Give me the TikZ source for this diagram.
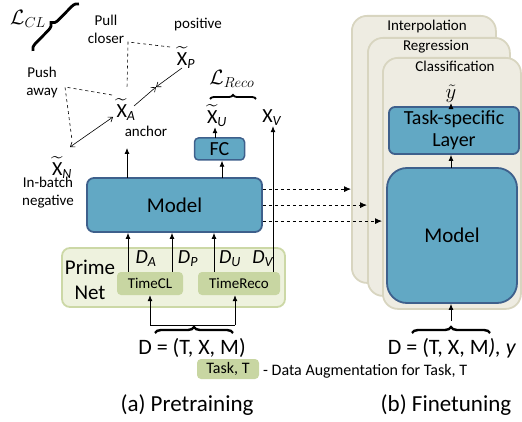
\documentclass[tikz,border=0pt]{standalone}
\usepackage{fontspec}
\setmainfont{Carlito}
\usepackage{amsmath}
\usetikzlibrary{arrows.meta,decorations.pathreplacing,calc}
\definecolor{mfill}{RGB}{98,168,196}
\definecolor{mdraw}{RGB}{62,96,140}
\definecolor{pfill}{RGB}{238,242,222}
\definecolor{pdraw}{RGB}{204,216,166}
\definecolor{gfill}{RGB}{200,214,162}
\definecolor{cfill}{RGB}{238,236,226}
\definecolor{cdraw}{RGB}{216,213,192}
\newcommand{\tX}[1]{$\widetilde{\text{X}}_{\textit{#1}}$}
\newcommand{\Dsub}[1]{\textit{D}\textsubscript{\textit{#1}}}
\begin{document}
\begin{tikzpicture}[x=1pt,y=-1pt,
  bluebox/.style={draw=mdraw,fill=mfill,line width=1.8pt,rounded corners=7pt,inner sep=0pt},
  greenbox/.style={fill=gfill,rounded corners=4pt,inner sep=0pt},
  card/.style={draw=cdraw,fill=cfill,line width=1.8pt,rounded corners=15pt,inner sep=0pt,anchor=north west},
  arr/.style={-{Latex[length=6pt,width=5pt]},line width=0.8pt},
  darr/.style={-{Latex[length=7pt,width=6pt]},dashed,line width=0.8pt},
  barb/.style={{Straight Barb[length=4pt,width=6pt]}-{Straight Barb[length=4pt,width=6pt]},line width=0.6pt},
  sbarb/.style={-{Straight Barb[length=4pt,width=6pt]},line width=0.6pt},
  dsh/.style={dashed,line width=0.6pt},
  lbl/.style={font=\fontsize{15}{18}\selectfont,align=center,inner sep=0pt},
  big/.style={font=\fontsize{20}{22}\selectfont,inner sep=0pt,align=center},
  huge/.style={font=\fontsize{23}{25}\selectfont,inner sep=0pt},
  brc/.style={decorate,decoration={brace,amplitude=6pt},line width=2.4pt},
]
\useasboundingbox (0,0) rectangle (522,422);

% ---------- contrastive part ----------
\node[big] (lcl) at (28,19) {$\mathcal{L}_{CL}$};
\coordinate (b1) at (33,51);
\coordinate (b2) at (79,4);
\draw[brc,decoration={brace,amplitude=7pt},line width=2.8pt] (b1) -- (b2);

\node[lbl] (pull) at (106,29) {Pull\\closer};
\node[lbl] (pos) at (198,25) {positive};
\node[big] (xp) at (186,58) {\tX{P}};
\node[lbl] (push) at (42,83) {Push\\away};
\node[big] (xa) at (126,110) {\tX{A}};
\node[lbl] (anch) at (146,131) {anchor};
\node[big] (xn) at (62,168) {\tX{N}};
\node[lbl] (inb) at (48,193) {In-batch\\negative};

\coordinate (pc) at (128,42);
\coordinate (pd) at (127,88);
\coordinate (pp) at (170,47);
\draw[dsh] (pp) -- (pc) -- (pd);
\coordinate (pa) at (65,87);
\coordinate (pa1) at (112,95);
\coordinate (pa2) at (72,140);
\draw[dsh] (pa1) -- (pa) -- (pa2);

\coordinate (mid) at (156,87);
\coordinate (ps) at (182,68);
\coordinate (as) at (134,106);
\draw[sbarb] (ps) -- (mid);
\draw[sbarb] (as) -- (mid);
\coordinate (an1) at (113,117);
\coordinate (an2) at (70,147);
\draw[barb] (an1) -- (an2);

% ---------- model (pretraining) ----------
\node[bluebox,minimum width=175pt,minimum height=54pt,big,font=\fontsize{21}{23}\selectfont] (model) at (174.5,205) {Model};
\node[bluebox,rounded corners=4pt,line width=1.5pt,minimum width=50pt,minimum height=22pt,big] (fc) at (219.5,149) {FC};
\node[big] (xu) at (217,116) {\tX{U}};
\node[big] (xv) at (272,118) {X\textsubscript{\textit{V}}};
\node[big] (lreco) at (232,79) {$\mathcal{L}_{Reco}$};
\coordinate (r1) at (210,99);
\coordinate (r2) at (256,99);
\draw[decorate,decoration={brace,amplitude=4pt},line width=1.8pt] (r1) -- (r2);

\coordinate (ma) at (127,178);
\coordinate (anctip) at (127,148);
\draw[arr] (ma) -- (anctip);
\coordinate (mf) at (222,178);
\draw[arr] (mf) -- (mf |- fc.south);
\coordinate (fu) at (215,138);
\draw[arr] (fu) -- (fu |- xu.south);

% ---------- PrimeNet ----------
\node[draw=pdraw,fill=pfill,line width=1.8pt,rounded corners=8pt,minimum width=223pt,minimum height=59pt,inner sep=0pt] (prime) at (173.5,277.5) {};
\node[big,font=\fontsize{21}{25}\selectfont] (pn) at (90,280) {Prime\\Net};
\node[greenbox,minimum width=66pt,minimum height=23pt,lbl] (tcl) at (150,283.5) {TimeCL};
\node[greenbox,minimum width=82pt,minimum height=23pt,lbl] (trc) at (239,283.5) {TimeReco};

\coordinate (da) at ($(tcl.north)+(-22,0)$);
\coordinate (dp) at ($(tcl.north)+(22,0)$);
\coordinate (du) at ($(trc.north)+(-25,0)$);
\coordinate (dv) at ($(trc.north)+(34,0)$);
\draw[arr] (da) -- (da |- model.south);
\draw[arr] (dp) -- (dp |- model.south);
\draw[arr] (du) -- (du |- model.south);
\draw[arr] (dv) -- (dv |- xv.south);
\node[big] (lda) at (146,259) {\Dsub{A}};
\node[big] (ldp) at (188,259) {\Dsub{P}};
\node[big] (ldu) at (230,259) {\Dsub{U}};
\node[big] (ldv) at (263,259) {\Dsub{V}};

\coordinate (h1) at (150,325);
\coordinate (h2) at (235,325);
\draw[arr] (h1) -- (h1 |- tcl.south);
\draw[arr] (h2) -- (h2 |- trc.south);
\draw[line width=0.8pt] (h1) -- (h2);
\coordinate (bl1) at (155,333);
\coordinate (bl2) at (233,333);
\draw[brc] (bl1) -- (bl2);
\node[big,font=\fontsize{22}{24}\selectfont] (dl) at (192,348) {D = (T, X, M)};

\node[greenbox,minimum width=62pt,minimum height=20pt,font=\fontsize{16}{18}\selectfont] (task) at (228,369) {Task, T};
\node[lbl,anchor=west,font=\fontsize{16}{18}\selectfont] (aug) at (263,371) {- Data Augmentation for Task, T};

\node[huge] (capa) at (187,405) {(a) Pretraining};
\node[huge] (capb) at (446,405) {(b) Finetuning};

% ---------- finetuning ----------
\node[card,minimum width=144pt,minimum height=267pt] (interp) at (351,15) {};
\node[card,minimum width=142pt,minimum height=258pt] (regr) at (367,37) {};
\node[card,minimum width=138pt,minimum height=251pt] (clas) at (382,57) {};
\node[lbl] (tint) at (427,27) {Interpolation};
\node[lbl] (treg) at (436,47) {Regression};
\node[lbl] (tcla) at (455,66) {Classification};

\node[big] (yt) at (451,94) {$\tilde{y}$};
\node[bluebox,rounded corners=6pt,minimum width=130pt,minimum height=47pt,big,font=\fontsize{20}{22}\selectfont] (tsl) at (454,130.5) {Task-specific\\Layer};
\node[bluebox,rounded corners=20pt,minimum width=130pt,minimum height=135pt,big,font=\fontsize{21}{23}\selectfont] (model2) at (452,235.5) {Model};

\coordinate (ty) at (451,107);
\draw[arr] (ty) -- (ty |- yt.south);
\coordinate (mt) at (451,168);
\draw[arr] (mt) -- (mt |- tsl.south);
\coordinate (bt) at (451,321);
\draw[arr] (bt) -- (bt |- model2.south);
\coordinate (br1) at (412,333);
\coordinate (br2) at (490,333);
\draw[brc] (br1) -- (br2);
\node[big,font=\fontsize{22}{24}\selectfont] (dr) at (452,348) {D = (T, X, M\textit{), y}};

\coordinate (s1) at ($(model.north east)+(0,12)$);
\coordinate (s2) at ($(model.north east)+(0,28)$);
\coordinate (s3) at ($(model.north east)+(0,44)$);
\draw[darr] (s1) -- (s1 -| interp.west);
\draw[darr] (s2) -- (s2 -| regr.west);
\draw[darr] (s3) -- (s3 -| clas.west);
\end{tikzpicture}
\end{document}
